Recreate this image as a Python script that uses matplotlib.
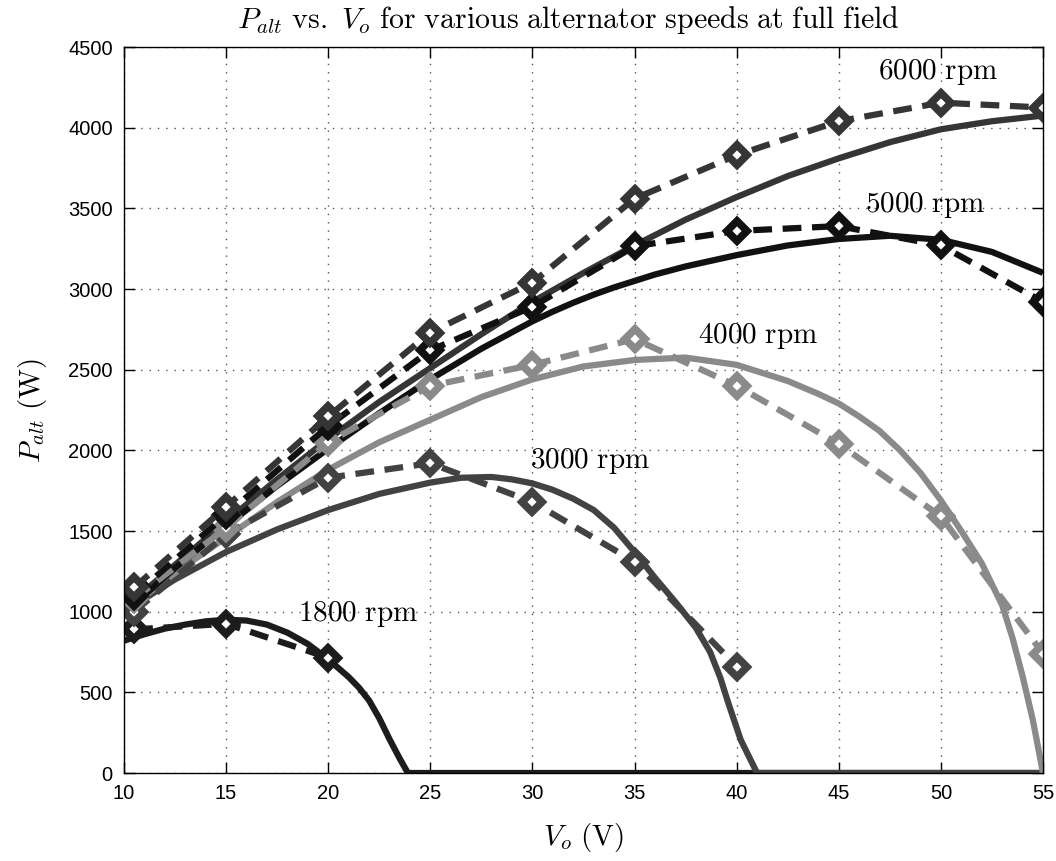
import matplotlib
matplotlib.use("Agg")
import matplotlib.pyplot as plt

plt.rcParams["mathtext.fontset"] = "cm"
plt.rcParams["font.family"] = ["Liberation Sans", "DejaVu Sans"]

# Measured output power (dashed, diamond markers)
v_meas = [10.5, 15, 20, 25, 30, 35, 40, 45, 50, 55]
p_meas_6000 = [1150, 1650, 2210, 2730, 3040, 3560, 3830, 4040, 4155, 4125]
p_meas_5000 = [1100, 1600, 2150, 2620, 2890, 3265, 3360, 3390, 3270, 2920]
p_meas_4000 = [1080, 1520, 2050, 2400, 2530, 2690, 2400, 2040, 1590, 740]
v_meas_3000 = [10.5, 15, 20, 25, 30, 35, 40]
p_meas_3000 = [1000, 1480, 1830, 1920, 1680, 1310, 660]
v_meas_1800 = [10.5, 15, 20]
p_meas_1800 = [890, 925, 715]

# Model output power (solid)
v_mod_6000 = [10, 12.5, 15, 17.5, 20, 22.5, 25, 27.5, 30, 32.5, 35, 37.5, 40,
              42.5, 45, 47.5, 50, 52.5, 55]
p_mod_6000 = [1020, 1290, 1560, 1820, 2070, 2300, 2510, 2720, 2920, 3100, 3270,
              3430, 3570, 3700, 3810, 3910, 3990, 4040, 4075]
v_mod_5000 = [10, 12.5, 15, 17.5, 20, 22.5, 25, 27.5, 30, 31, 32, 33, 34, 35,
              36, 37.5, 40, 42.5, 45, 47.5, 50, 52.5, 55]
p_mod_5000 = [990, 1270, 1530, 1780, 2010, 2230, 2440, 2630, 2800, 2860, 2915,
              2965, 3010, 3050, 3090, 3140, 3210, 3270, 3310, 3330, 3305, 3230,
              3100]
v_mod_4000 = [10, 12.5, 15, 17.5, 20, 22.5, 25, 27.5, 30, 32.5, 35, 37.5, 40,
              42.5, 44, 45, 46, 47, 48, 49, 50, 51, 52, 53, 53.5, 54, 54.5, 55]
p_mod_4000 = [1000, 1240, 1460, 1680, 1880, 2050, 2190, 2330, 2440, 2520, 2560,
              2575, 2530, 2430, 2350, 2290, 2210, 2120, 2000, 1860, 1690, 1500,
              1300, 1040, 840, 600, 330, 0]
v_mod_3000 = [10, 12.5, 15, 17.5, 20, 22.5, 25, 26.5, 28, 29, 30, 31, 32, 33,
              34, 35, 36, 37, 38, 38.7, 39.2, 39.6, 40.2, 41, 55]
p_mod_3000 = [1000, 1200, 1370, 1510, 1630, 1730, 1800, 1830, 1835, 1820, 1795,
              1755, 1700, 1630, 1520, 1370, 1210, 1060, 900, 750, 590, 430, 205,
              0, 0]
v_mod_1800 = [10, 11, 12, 13, 14, 15, 16, 17, 18, 19, 20, 21, 21.5, 22, 22.5,
              23, 23.5, 23.9, 55]
p_mod_1800 = [820, 860, 895, 920, 940, 950, 945, 920, 870, 800, 705, 595, 530,
              450, 340, 210, 90, 0, 0]

# Speed labels
speed_labels = ["6000", "5000", "4000", "3000", "1800"]
label_v = [46.9, 46.3, 38.1, 29.9, 18.5]
label_p = [4345, 3520, 2708, 1934, 985]

c6000 = "#353535"
c5000 = "#111111"
c4000 = "#8a8a8a"
c3000 = "#424242"
c1800 = "#1c1c1c"

fig = plt.figure(figsize=(10.56, 8.61), dpi=100)
ax = fig.add_axes([0.1174, 0.1022, 0.8703, 0.8432])

lw = 4.5
dash = (0, (3.0, 1.7))
mk = dict(marker="D", markersize=10.5, markerfacecolor="white",
          markeredgewidth=5.5)

ax.plot(v_mod_1800, p_mod_1800, color=c1800, lw=lw, solid_capstyle="butt")
ax.plot(v_mod_3000, p_mod_3000, color=c3000, lw=lw, solid_capstyle="butt")
ax.plot(v_mod_4000, p_mod_4000, color=c4000, lw=lw, solid_capstyle="butt")
ax.plot(v_mod_6000, p_mod_6000, color=c6000, lw=lw, solid_capstyle="butt")
ax.plot(v_mod_5000, p_mod_5000, color=c5000, lw=lw, solid_capstyle="butt")

ax.plot(v_meas_1800, p_meas_1800, color=c1800, lw=lw, linestyle=dash,
        markeredgecolor=c1800, **mk)
ax.plot(v_meas_3000, p_meas_3000, color=c3000, lw=lw, linestyle=dash,
        markeredgecolor=c3000, **mk)
ax.plot(v_meas, p_meas_4000, color=c4000, lw=lw, linestyle=dash,
        markeredgecolor=c4000, **mk)
ax.plot(v_meas, p_meas_5000, color=c5000, lw=lw, linestyle=dash,
        markeredgecolor=c5000, **mk)
ax.plot(v_meas, p_meas_6000, color=c6000, lw=lw, linestyle=dash,
        markeredgecolor=c6000, **mk)

for num, vx, py in zip(speed_labels, label_v, label_p):
    ax.text(vx, py, r"$\mathrm{%s\ rpm}$" % num, fontsize=21, va="center",
            ha="left", color="black")

ax.set_xlim(10, 55)
ax.set_ylim(0, 4500)
ax.set_xticks(range(10, 56, 5))
ax.set_yticks(range(0, 4501, 500))
ax.tick_params(direction="in", length=8, width=1, top=True, right=True,
               labelsize=14.5, pad=8)
ax.grid(True, color="#555555", linestyle=(0, (1, 5)), linewidth=1.0)
for s in ax.spines.values():
    s.set_linewidth(1.0)

ax.set_title(r"$P_{alt}\ \mathrm{vs.}\ V_o\ \mathrm{for\ various\ alternator\ speeds\ at\ full\ field}$",
             fontsize=21.5, pad=14, x=0.483)
ax.set_xlabel(r"$V_o\ \mathrm{(V)}$", fontsize=21, labelpad=13)
ax.set_ylabel(r"$P_{alt}\ \mathrm{(W)}$", fontsize=21, labelpad=14)

fig.savefig("out.png", dpi=100)
